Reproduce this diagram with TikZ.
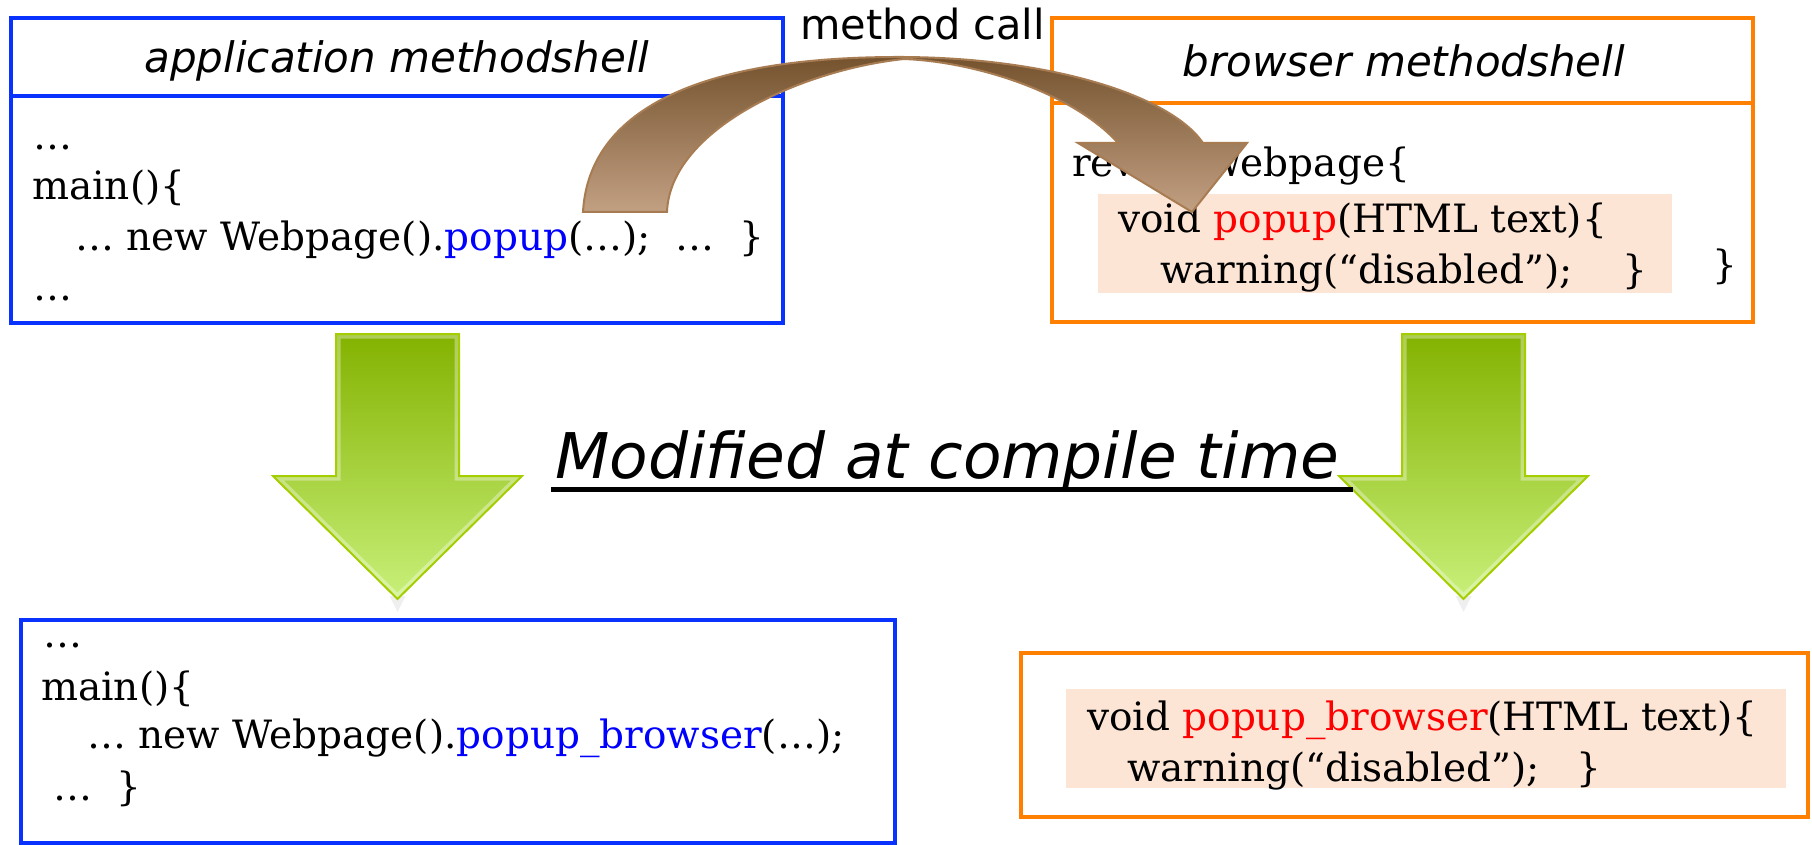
\documentclass[tikz,border=0pt]{standalone}
\usepackage{fontspec}
\setmainfont{DejaVu Serif}
\newfontfamily\sansf{DejaVu Sans}
\usetikzlibrary{calc}
\definecolor{boxblue}{RGB}{10,50,255}
\definecolor{boxorange}{RGB}{255,128,0}
\definecolor{peach}{RGB}{253,229,213}
\definecolor{codeblue}{RGB}{0,0,255}
\definecolor{codered}{RGB}{255,0,0}
\definecolor{greentop}{RGB}{132,178,0}
\definecolor{greenbot}{RGB}{200,240,122}
\definecolor{greenline}{RGB}{164,206,0}
\definecolor{browntop}{RGB}{116,82,46}
\definecolor{brownbot}{RGB}{194,160,130}
\definecolor{brownline}{RGB}{168,124,82}
\tikzset{
  bluebox/.style={draw=boxblue, line width=4pt, inner sep=0pt},
  orangebox/.style={draw=boxorange, line width=4pt, inner sep=0pt},
  peachbox/.style={fill=peach, inner sep=0pt},
  code/.style={anchor=base west, inner sep=0pt, font=\fontsize{39}{45}\selectfont},
  hdr/.style={anchor=base, inner sep=0pt, font=\sansf\itshape\fontsize{42}{48}\selectfont},
  greenfill/.style={top color=greentop, bottom color=greenbot},
  greenglow/.style={draw=white, opacity=0.35, line width=9pt, line join=miter},
  greenedge/.style={draw=greenline, line width=2pt, line join=miter},
  brownarrow/.style={top color=browntop, bottom color=brownbot, draw=brownline, line width=2pt, line join=miter},
}
\newcommand{\garrowpath}[1]{(#1-61.5,-334) -- (#1+61.5,-334) -- (#1+61.5,-476) -- (#1+124.5,-476) -- (#1,-599) -- (#1-124.5,-476) -- (#1-61.5,-476) -- cycle}
\newcommand{\greenarrowat}[1]{%
  \fill[gray, opacity=0.12] (#1-8,-596) -- (#1+8,-596) -- (#1,-612) -- cycle;
  \path[greenfill] \garrowpath{#1};
  \begin{scope}
    \clip \garrowpath{#1};
    \path[greenglow] \garrowpath{#1};
  \end{scope}
  \path[greenedge] \garrowpath{#1};
}
\begin{document}
\begin{tikzpicture}[x=1pt, y=1pt]
\useasboundingbox[fill=white] (0,0) rectangle (1812,-845);

% top-left box
\node[bluebox, minimum width=772pt, minimum height=305pt] (appbox) at (397,-170.5) {};
\coordinate (appdl) at (11,-96);
\coordinate (appdr) at (783,-96);
\draw[draw=boxblue, line width=4pt] (appdl) -- (appdr);
\node[hdr] (apphdr) at (397,-73) {application methodshell};
\node[code] (a1) at (33,-150) {…};
\node[code] (a2) at (32,-200) {main()\{};
\node[code] (a3) at (75,-250) {… new Webpage().\textcolor{codeblue}{popup}(…);\ \ …\ \ \}};
\node[code] (a4) at (33,-300) {…};

% top-right box
\node[orangebox, minimum width=701pt, minimum height=304pt] (brbox) at (1402.5,-170) {};
\coordinate (brdl) at (1052,-103);
\coordinate (brdr) at (1753,-103);
\draw[draw=boxorange, line width=4pt] (brdl) -- (brdr);
\node[hdr] (brhdr) at (1404,-77) {browser methodshell};
\node[peachbox, minimum width=574pt, minimum height=99pt] (bpeach) at (1385,-243.5) {};
\node[code] (b1) at (1072,-177) {revise Webpage\{};
\node[code] (b2) at (1118,-233) {void \textcolor{codered}{popup}(HTML text)\{};
\node[code] (b3) at (1160,-283) {warning(“disabled”);\ \ \ \ \}};
\node[code] (b4) at (1712,-278) {\}};

% method call label
\node[anchor=base west, inner sep=0pt, font=\sansf\fontsize{41.5}{46}\selectfont] (mcall) at (800,-40) {method call};

% green arrows
\greenarrowat{397.5}
\greenarrowat{1463.5}

% modified label
\node[anchor=base west, inner sep=0pt, font=\sansf\itshape\fontsize{63}{70}\selectfont] (mod) at (555,-478) {Modified at compile time};
\coordinate (ulA) at ($(mod.base west)+(-4,-11)$);
\coordinate (ulB) at ($(mod.base east)+(14,-11)$);
\draw[line width=5pt] (ulA) -- (ulB);

% bottom-left box
\node[bluebox, minimum width=874pt, minimum height=223pt] (appbox2) at (458,-731.5) {};
\node[code] (c1) at (43,-647) {…};
\node[code] (c2) at (41,-700) {main()\{};
\node[code] (c3) at (87,-748) {… new Webpage().\textcolor{codeblue}{popup\_browser}(…);};
\node[code] (c4) at (53,-800) {…\ \ \}};

% bottom-right box
\node[orangebox, minimum width=787pt, minimum height=164pt] (brbox2) at (1414.5,-735) {};
\node[peachbox, minimum width=720pt, minimum height=99pt] (dpeach) at (1426,-738.5) {};
\node[code] (d1) at (1087,-730) {void \textcolor{codered}{popup\_browser}(HTML text)\{};
\node[code] (d2) at (1127,-781) {warning(“disabled”);\ \ \ \}};

% brown curved arrow
\path[brownarrow] (583,-212) .. controls (588,-120) and (680,-56) .. (904,-57)
  .. controls (1050,-58) and (1170,-95) .. (1203,-143)
  -- (1247,-143) -- (1192,-212) -- (1078,-143) -- (1118,-143)
  .. controls (1075,-95) and (980,-62) .. (904,-59)
  .. controls (800,-70) and (670,-130) .. (667,-212) -- cycle;
\end{tikzpicture}
\end{document}
